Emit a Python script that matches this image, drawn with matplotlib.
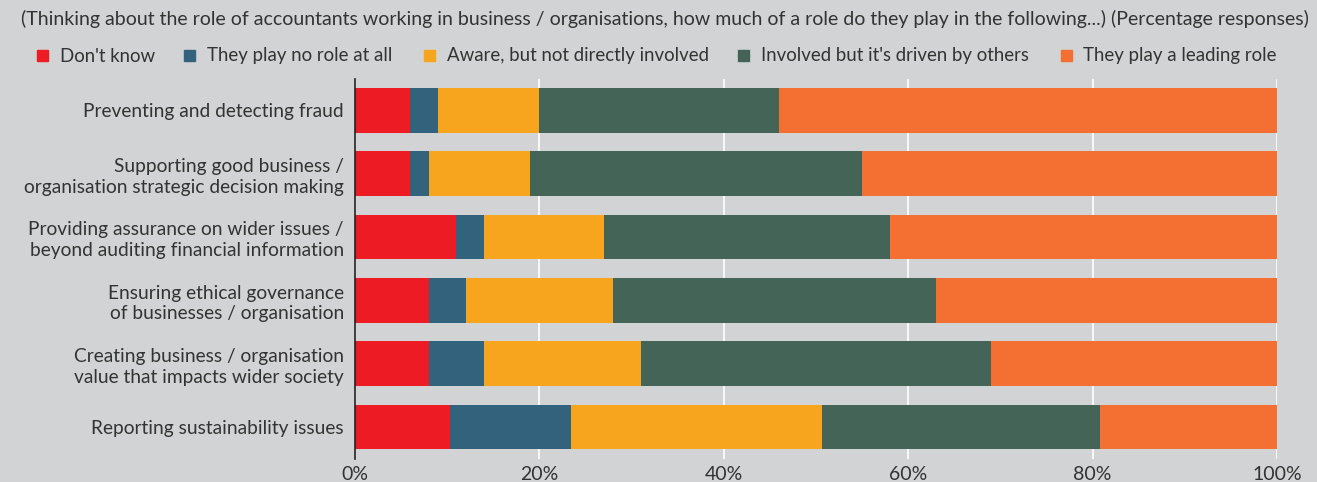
import matplotlib
matplotlib.use("Agg")
import matplotlib.pyplot as plt
from matplotlib.patches import Rectangle
import numpy as np

categories = [
    "Preventing and detecting fraud",
    "Supporting good business /\norganisation strategic decision making",
    "Providing assurance on wider issues /\nbeyond auditing financial information",
    "Ensuring ethical governance\nof businesses / organisation",
    "Creating business / organisation\nvalue that impacts wider society",
    "Reporting sustainability issues",
]
series_names = ["Don't know", "They play no role at all", "Aware, but not directly involved",
                "Involved but it's driven by others", "They play a leading role"]
dont_know = [6, 6, 11, 8, 8, 10.3]
no_role = [3, 2, 3, 4, 6, 13.1]
aware = [11, 11, 13, 16, 17, 27.2]
involved = [26, 36, 31, 35, 38, 30.2]
leading = [54, 45, 42, 37, 31, 19.2]
xticks = [0, 20, 40, 60, 80, 100]
xtick_labels = ["0%", "20%", "40%", "60%", "80%", "100%"]
title = "(Thinking about the role of accountants working in business / organisations, how much of a role do they play in the following...) (Percentage responses)"

colors = ["#ED1C24", "#33627D", "#F7A51E", "#436457", "#F37032"]
bg = "#D1D3D4"
txt = "#333333"
plt.rcParams['font.family'] = ['Lato', 'DejaVu Sans']

fig = plt.figure(figsize=(13.17, 4.82), dpi=100, facecolor=bg)
ax = fig.add_axes([355/1317, 23.4/482, 922/1317, (458.6-78.7)/482])
ax.set_facecolor(bg)

y = np.arange(len(categories))
left = np.zeros(len(categories))
for vals, c in zip([dont_know, no_role, aware, involved, leading], colors):
    ax.barh(y, vals, left=left, height=0.706, color=c, zorder=3)
    left += np.array(vals)

ax.set_xlim(0, 100)
ax.set_ylim(5.5, -0.5)
ax.set_xticks(xticks)
ax.set_xticklabels(xtick_labels, fontsize=14, color=txt)
ax.set_yticks(y)
ax.set_yticklabels(categories, fontsize=13.8, color=txt, linespacing=1.25)
for lbl in ax.get_yticklabels():
    lbl.set_multialignment('right')
ax.tick_params(axis='y', length=0, pad=8)
ax.tick_params(axis='x', length=0, pad=5)
ax.grid(axis='x', color='white', linewidth=1.2, zorder=0)
for s in ['top', 'right', 'bottom']:
    ax.spines[s].set_visible(False)
ax.spines['left'].set_color('#222222')
ax.spines['left'].set_linewidth(1.2)
ax.spines['left'].set_zorder(5)

fig.text(21/1317, 1 - 19/482, title, fontsize=14, color=txt, va='center', ha='left')

leg_sq = [37, 184, 424, 738, 1061]
leg_tx = [60, 207, 447, 761, 1083]
for name, c, sx, tx in zip(series_names, colors, leg_sq, leg_tx):
    fig.patches.append(Rectangle((sx/1317, 1 - 60.5/482), 11/1317, 10.5/482,
                                 transform=fig.transFigure, color=c, figure=fig))
    fig.text(tx/1317, 1 - 56/482, name, fontsize=13.4, color=txt, va='center', ha='left')

fig.savefig("out.png", dpi=100, facecolor=bg)
